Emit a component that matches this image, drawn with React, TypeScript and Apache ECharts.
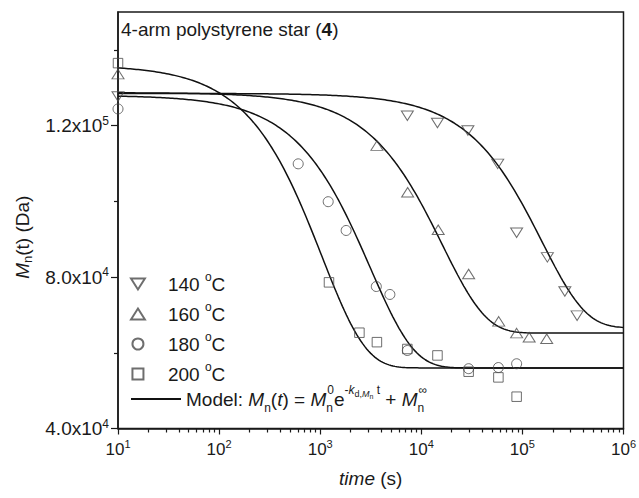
import React, { useEffect, useRef } from 'react';
import * as echarts from 'echarts';

const FONT = '"Liberation Sans", Arial, Helvetica, sans-serif';
const INK = '#1a1a1a';
const SYM = '#4a4a4a';

// Measured data (time in s, Mn in Da)
const seriesNames = ['140 °C', '160 °C', '180 °C', '200 °C'];

const t140 = [10, 7280, 14450, 28900, 57000, 87700, 176600, 263000, 347600];
const m140 = [127700, 122600, 120700, 118700, 109900, 91700, 85200, 76200, 69800];

const t160 = [10, 3640, 7330, 14700, 29400, 58300, 87700, 116700, 174000];
const m160 = [133600, 114700, 102400, 92500, 80800, 68300, 65200, 64100, 63700];

const t180 = [10, 606, 1200, 1806, 3590, 4890, 7280, 29400, 57900, 87700];
const m180 = [124400, 109900, 99900, 92300, 77500, 75400, 60600, 55800, 56100, 57100];

const t200 = [10, 1222, 2443, 3640, 7280, 14450, 29400, 57900, 87700];
const m200 = [136500, 78600, 65300, 62800, 61000, 59300, 55000, 53500, 48400];

// Model fit parameters: Mn(t) = M0 * exp(-k t) + Minf
const fitM0 = [61900, 63500, 72000, 80000];
const fitMinf = [66600, 65200, 56000, 56000];
const fitK = [6.4e-6, 6.2e-5, 3.2e-4, 9.6e-4];

// Axis ticks
const yMajorTicks = [40000, 80000, 120000];
const yMinorTicks = [60000, 100000, 140000];

const curveLogT: number[] = [];
for (let i = 0; i <= 250; i++) curveLogT.push(1 + i * 0.02);

function modelCurve(j: number) {
  return curveLogT.map((lt) => {
    const t = Math.pow(10, lt);
    return [t, fitM0[j] * Math.exp(-fitK[j] * t) + fitMinf[j]];
  });
}

function pairs(t: number[], m: number[]) {
  return t.map((x, i) => [x, m[i]]);
}

const DOWN_TRI = 'path://M0,0L12,0L6,9.5Z';
const UP_TRI = 'path://M6,0L12,9.5L0,9.5Z';
const SQUARE = 'path://M0,0L10,0L10,10L0,10Z';

export default function App() {
  const ref = useRef<HTMLDivElement>(null);

  useEffect(() => {
    document.body.style.margin = '0';
    const chart = echarts.init(ref.current!, null, { renderer: 'svg' });

    const richBase = {
      fontFamily: FONT,
      color: INK,
    };

    const legendRich = {
      sup: { ...richBase, fontSize: 12, verticalAlign: 'top', lineHeight: 13 },
      i: { ...richBase, fontSize: 19, fontStyle: 'italic', lineHeight: 30 },
      sub: { ...richBase, fontSize: 12, verticalAlign: 'bottom', lineHeight: 13 },
      subz: { ...richBase, fontSize: 12, verticalAlign: 'bottom', lineHeight: 13, width: 1 },
      supi: { ...richBase, fontSize: 12, fontStyle: 'italic', verticalAlign: 'top', lineHeight: 13 },
      ssub: { ...richBase, fontSize: 9, verticalAlign: 'top', lineHeight: 12, padding: [5, 0, 0, 0] },
      ssubi: { ...richBase, fontSize: 9, fontStyle: 'italic', verticalAlign: 'top', lineHeight: 12, padding: [5, 0, 0, 0] },
      sssub: { ...richBase, fontSize: 7, verticalAlign: 'top', lineHeight: 10, padding: [9, 0, 0, 0] },
    };

    const modelText =
      'Model: {i|M}{sub|n}({i|t}) = {i|M}{subz|n}{sup|0}e{sup|-}{supi|k}{ssub|d,}{ssubi|M}{sssub|n}{sup| t} + {i|M}{subz|n}{sup|∞}';

    const legendCommon = {
      orient: 'vertical',
      left: 130,
      padding: 0,
      itemGap: 4,
      itemWidth: 50,
      itemHeight: 11,
      selectedMode: false,
    };

    const option: any = {
      animation: false,
      backgroundColor: '#ffffff',
      grid: {
        left: 118,
        top: 12,
        right: 12,
        bottom: 69.5,
        show: true,
        borderColor: INK,
        borderWidth: 1.5,
        backgroundColor: 'transparent',
      },
      xAxis: {
        type: 'log',
        logBase: 10,
        min: 10,
        max: 1000000,
        axisLine: { show: true, lineStyle: { color: INK, width: 1.5 } },
        axisTick: { show: true, inside: false, length: 6, lineStyle: { color: INK, width: 1.2 } },
        minorTick: { show: true, splitNumber: 9, length: 4, lineStyle: { color: INK, width: 1.2 } },
        splitLine: { show: false },
        minorSplitLine: { show: false },
        axisLabel: {
          margin: 10,
          formatter: (v: number) => `{b|10}{s|${Math.round(Math.log10(v))}}`,
          rich: {
            b: { fontFamily: FONT, fontSize: 17, color: INK, lineHeight: 22 },
            s: { fontFamily: FONT, fontSize: 11, color: INK, verticalAlign: 'top', lineHeight: 12 },
          },
        },
        name: '{i|time} (s)',
        nameLocation: 'middle',
        nameGap: 40,
        nameTextStyle: {
          fontFamily: FONT,
          fontSize: 19,
          color: INK,
          rich: {
            i: { fontFamily: FONT, fontSize: 19, fontStyle: 'italic', color: INK },
          },
        },
      },
      yAxis: [
        {
          type: 'value',
          min: 40000,
          max: 150000,
          axisLine: { show: true, lineStyle: { color: INK, width: 1.5 } },
          axisTick: { show: true, inside: false, length: 7, customValues: yMajorTicks, lineStyle: { color: INK, width: 1.2 } },
          splitLine: { show: false },
          axisLabel: {
            margin: 9,
            customValues: yMajorTicks,
            formatter: (v: number) => {
              const e = Math.floor(Math.log10(v));
              const m = (v / Math.pow(10, e)).toFixed(1);
              return `{b|${m}x10}{s|${e}}`;
            },
            rich: {
              b: { fontFamily: FONT, fontSize: 19, color: INK, lineHeight: 22 },
              s: { fontFamily: FONT, fontSize: 12, color: INK, verticalAlign: 'top', lineHeight: 12 },
            },
          },
          name: '{i|M}{sub|n}(t) (Da)',
          nameLocation: 'middle',
          nameGap: 80,
          nameRotate: 90,
          nameTextStyle: {
            fontFamily: FONT,
            fontSize: 19,
            color: INK,
            lineHeight: 24,
            padding: [0, 34, 0, 0],
            rich: {
              i: { fontFamily: FONT, fontSize: 19, fontStyle: 'italic', color: INK, lineHeight: 24 },
              sub: { fontFamily: FONT, fontSize: 13, color: INK, verticalAlign: 'bottom', lineHeight: 14 },
            },
          },
        },
        {
          type: 'value',
          min: 40000,
          max: 150000,
          position: 'left',
          axisLine: { show: false },
          axisTick: { show: true, inside: false, length: 4, customValues: yMinorTicks, lineStyle: { color: INK, width: 1.2 } },
          axisLabel: { show: false },
          splitLine: { show: false },
        },
      ],
      legend: [
        {
          ...legendCommon,
          top: 271,
          data: seriesNames.map((n) => ({ name: n })),
          formatter: (name: string) => `${name.replace(' °C', '')} {sup|o}C`,
          textStyle: {
            fontFamily: FONT,
            fontSize: 19,
            color: INK,
            lineHeight: 26,
            rich: {
              sup: { ...richBase, fontSize: 12, verticalAlign: 'top', lineHeight: 13 },
            },
          },
        },
        {
          ...legendCommon,
          top: 384,
          data: [
            {
              name: 'Model',
              itemStyle: { color: 'transparent', borderColor: 'transparent', borderWidth: 0 },
            },
          ],
          formatter: () => modelText,
          textStyle: {
            fontFamily: FONT,
            fontSize: 19,
            color: INK,
            lineHeight: 30,
            rich: legendRich,
          },
        },
      ],
      graphic: [
        {
          type: 'text',
          left: 121,
          top: 20,
          style: {
            text: '4-arm polystyrene star ({b|4})',
            fontFamily: FONT,
            fontSize: 19,
            fill: INK,
            rich: {
              b: { fontFamily: FONT, fontSize: 19, fontWeight: 'bold', color: INK },
            },
          },
        },
      ],
      series: [
        ...fitM0.map((_, j) => ({
          name: j === 0 ? 'Model' : `fit${j}`,
          type: 'line',
          data: modelCurve(j),
          showSymbol: false,
          symbol: 'none',
          smooth: false,
          lineStyle: { color: '#111111', width: 1.5 },
          itemStyle: { color: '#111111' },
          z: 2,
        })),
        {
          name: seriesNames[0],
          type: 'scatter',
          symbol: DOWN_TRI,
          symbolSize: [12, 9.5],
          data: pairs(t140, m140),
          itemStyle: { color: 'transparent', borderColor: SYM, borderWidth: 1 },
          z: 3,
        },
        {
          name: seriesNames[1],
          type: 'scatter',
          symbol: UP_TRI,
          symbolSize: [12, 9.5],
          data: pairs(t160, m160),
          itemStyle: { color: 'transparent', borderColor: SYM, borderWidth: 1 },
          z: 3,
        },
        {
          name: seriesNames[2],
          type: 'scatter',
          symbol: 'circle',
          symbolSize: 10,
          data: pairs(t180, m180),
          itemStyle: { color: 'transparent', borderColor: SYM, borderWidth: 1 },
          z: 3,
        },
        {
          name: seriesNames[3],
          type: 'scatter',
          symbol: SQUARE,
          symbolSize: 9.5,
          data: pairs(t200, m200),
          itemStyle: { color: 'transparent', borderColor: SYM, borderWidth: 1 },
          z: 3,
        },
      ],
    };

    chart.setOption(option);
    return () => chart.dispose();
  }, []);

  return (
    <div
      ref={ref}
      style={{ position: 'fixed', left: 0, top: 0, width: 639, height: 498 }}
    />
  );
}
